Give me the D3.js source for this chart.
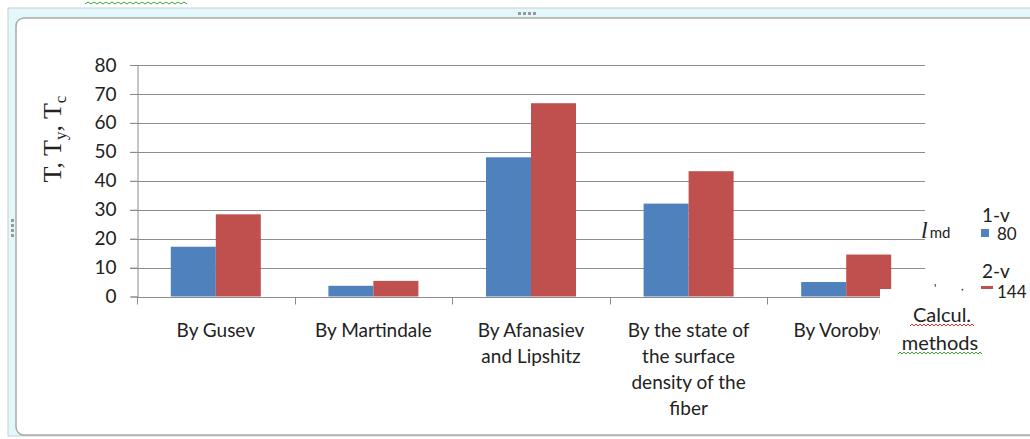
<!DOCTYPE html>
<html>
<head>
<meta charset="utf-8">
<script src="https://cdn.jsdelivr.net/npm/d3@7"></script>
<style>
  body { margin: 0; background: #fff; }
  text { fill: #222; }
</style>
</head>
<body>
<script>
// data
var categories = ["By Gusev", "By Martindale", "By Afanasiev and Lipshitz",
                  "By the state of the surface density of the fiber", "By Vorobyov"];
var labelLines = [["By Gusev"], ["By Martindale"], ["By Afanasiev", "and Lipshitz"],
                  ["By the state of", "the surface", "density of the", "fiber"], ["By Vorobyov"]];
var seriesNames = ["1-v", "2-v"];
var seriesSub = ["80", "144"];
var v1 = [17.2, 3.7, 48.1, 32.1, 5.0];
var v2 = [28.4, 5.4, 66.8, 43.3, 14.5];
var yTicks = [0, 10, 20, 30, 40, 50, 60, 70, 80];
var colors = ["#4f81bd", "#c0504d"];

var width = 1030,
    height = 439,
    sans = "Lato, 'Open Sans', sans-serif",
    serif = "'Liberation Serif', 'DejaVu Serif', serif";

var svg = d3.select("body")
    .append("svg")
    .attr("width", width)
    .attr("height", height)
    .style("font-family", sans);

// text box frame (word-style)
svg.append("rect").attr("x", 8).attr("y", 8).attr("width", 1040).attr("height", 428)
    .attr("fill", "#e2f8fb").attr("stroke", "#c6d0d2");
svg.append("rect").attr("x", 16).attr("y", 18).attr("width", 1030).attr("height", 417)
    .attr("rx", 8).attr("fill", "#fff").attr("stroke", "#a9a9a9").attr("stroke-width", 1.5);
// handle dots
[518, 523, 528, 533].forEach(function(x) {
    svg.append("rect").attr("x", x).attr("y", 12).attr("width", 3).attr("height", 3).attr("fill", "#999");
});
[219, 224, 229, 234].forEach(function(y) {
    svg.append("rect").attr("x", 11).attr("y", y).attr("width", 3).attr("height", 3).attr("fill", "#999");
});
// spell check squiggle of text above the box
var sq = d3.range(85, 190, 3).map(function(x, i) { return [x, i % 2 ? 2 : 4]; });
svg.append("path").attr("d", d3.line()(sq)).attr("fill", "none").attr("stroke", "#3aa832").attr("stroke-width", 1);

var x0 = d3.scaleBand().domain(categories).range([137, 925]);
var x1 = d3.scaleBand().domain(seriesNames).range([0, 90]);
var y = d3.scaleLinear().domain([0, 80]).range([296.5, 65]);

// gridlines
svg.append("g").selectAll("line").data(yTicks.slice(1)).join("line")
    .attr("x1", 130).attr("x2", 925)
    .attr("y1", function(d) { return Math.round(y(d)) + 0.5; })
    .attr("y2", function(d) { return Math.round(y(d)) + 0.5; })
    .attr("stroke", "#8c8c8c");

// y axis
var yAxis = svg.append("g").attr("transform", "translate(137.5,0)")
    .call(d3.axisLeft(y).tickValues(yTicks).tickSize(7).tickPadding(14));
yAxis.select(".domain").attr("stroke", "#8c8c8c");
yAxis.selectAll(".tick line").attr("stroke", "#8c8c8c");
yAxis.selectAll(".tick text").attr("font-size", 19).style("font-family", sans).attr("fill", "#222");

// bars
var groups = svg.append("g").selectAll("g").data(categories).join("g")
    .attr("transform", function(d) { return "translate(" + (x0(d) + (x0.bandwidth() - 90) / 2) + ",0)"; });
groups.selectAll("rect").data(function(d, i) { return [v1[i], v2[i]]; }).join("rect")
    .attr("x", function(d, j) { return x1(seriesNames[j]); })
    .attr("width", x1.bandwidth())
    .attr("y", function(d) { return y(d); })
    .attr("height", function(d) { return y(0) - y(d); })
    .attr("fill", function(d, j) { return colors[j]; });

// x axis
var xAxis = svg.append("g").attr("transform", "translate(0," + (Math.round(y(0)) + 0.5) + ")");
xAxis.append("line").attr("x1", 137).attr("x2", 925).attr("stroke", "#8c8c8c");
xAxis.selectAll(".tk").data(categories.concat([null])).join("line")
    .attr("x1", function(d) { return d ? Math.round(x0(d)) + 0.5 : 925.5; })
    .attr("x2", function(d) { return d ? Math.round(x0(d)) + 0.5 : 925.5; })
    .attr("y1", 0).attr("y2", 7).attr("stroke", "#8c8c8c");

var labels = svg.append("g").selectAll("text").data(categories).join("text")
    .attr("text-anchor", "middle").attr("font-size", 19)
    .attr("x", function(d) { return x0(d) + x0.bandwidth() / 2; })
    .attr("y", 337);
labels.selectAll("tspan").data(function(d, i) { return labelLines[i]; }).join("tspan")
    .attr("x", function() { return d3.select(this.parentNode).attr("x"); })
    .attr("dy", function(d, k) { return k ? 26 : 0; })
    .text(function(d) { return d; });

// overlaid text box that hides the corner
svg.append("rect").attr("x", 880).attr("y", 289).attr("width", 130).attr("height", 75).attr("fill", "#fff");

// y title
var yt = svg.append("text").attr("transform", "translate(61,139) rotate(-90)")
    .attr("text-anchor", "middle").style("font-family", serif).attr("font-size", 26);
yt.append("tspan").text("T, T");
yt.append("tspan").attr("font-size", 17).attr("dy", 5).text("y");
yt.append("tspan").attr("dy", -5).text(", T");
yt.append("tspan").attr("font-size", 17).attr("dy", 5).text("c");

// legend
var lg = svg.append("g");
lg.selectAll(".nm").data(seriesNames).join("text")
    .attr("x", 982).attr("y", function(d, i) { return 222 + i * 56; })
    .attr("font-size", 19).text(function(d) { return d; });
lg.selectAll(".sub").data(seriesSub).join("text")
    .attr("x", 997).attr("y", function(d, i) { return 240 + i * 58; })
    .attr("font-size", 17).text(function(d) { return d; });
lg.append("rect").attr("x", 981).attr("y", 229).attr("width", 8).attr("height", 8).attr("fill", colors[0]);
lg.append("rect").attr("x", 981).attr("y", 286).attr("width", 12).attr("height", 3).attr("fill", colors[1]);

var lmd = svg.append("text").attr("x", 921).attr("y", 238);
lmd.append("tspan").style("font-family", serif).style("font-style", "italic").attr("font-size", 24).text("l");
lmd.append("tspan").attr("font-size", 15).attr("dx", 2).text("md");
svg.append("text").attr("x", 934).attr("y", 292).attr("font-size", 12).text("'");
svg.append("text").attr("x", 961).attr("y", 290).attr("font-size", 12).text(",");

svg.append("text").attr("x", 942).attr("y", 322).attr("text-anchor", "middle").attr("font-size", 20).text("Calcul.");
svg.append("text").attr("x", 940).attr("y", 350).attr("text-anchor", "middle").attr("font-size", 20).text("methods");
function squiggle(xa, xb, yy, col) {
    var pts = d3.range(xa, xb, 2).map(function(x, i) { return [x, yy + (i % 2 ? -1 : 1)]; });
    svg.append("path").attr("d", d3.line()(pts)).attr("fill", "none").attr("stroke", col).attr("stroke-width", 1);
}
squiggle(910, 976, 325, "#e03030");
squiggle(898, 984, 353, "#3aa832");
</script>
</body>
</html>
